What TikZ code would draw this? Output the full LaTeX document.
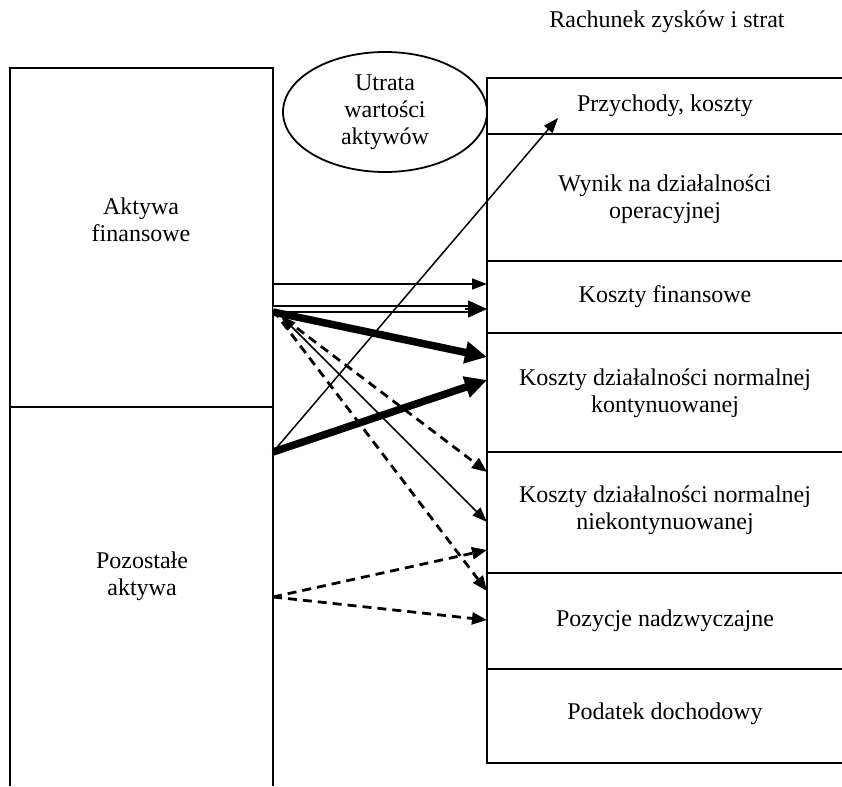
\documentclass[tikz,border=0pt]{standalone}
\usepackage{fontspec}
\setmainfont{Liberation Serif}
\usetikzlibrary{arrows.meta,shapes.geometric}
\begin{document}
\begin{tikzpicture}[x=1pt,y=-1pt,
  box/.style={line width=2.4pt},
  lbl/.style={font=\fontsize{24}{27}\selectfont, align=center, inner sep=0pt},
  thinarr/.style={line width=1.5pt, -{Triangle[length=15pt,width=11pt]}},
  thickarr/.style={line width=7.5pt, -{Triangle[length=22pt,width=21pt]}},
  dasharr/.style={line width=2.8pt, dash pattern=on 9pt off 6pt, -{Triangle[length=15pt,width=12pt]}}
]
\useasboundingbox (0,0) rectangle (842,786);
% left column
\draw[box] (273,786) -- (273,68) -- (10,68) -- (10,786);
\draw[box] (10,407) -- (273,407);
\node[lbl] (af) at (141,220) {Aktywa\\finansowe};
\node[lbl] (pa) at (142,576) {Pozostałe\\aktywa};
% ellipse
\node[draw, ellipse, line width=1.8pt, minimum width=204pt, minimum height=120pt, inner sep=0pt,
      font=\fontsize{24}{27}\selectfont, align=center] (loss) at (385,112) {Utrata\\wartości\\aktywów};
% right column
\node[lbl] (title) at (667,22) {Rachunek zysków i strat};
\draw[box] (843,78) -- (487,78) -- (487,763) -- (843,763);
\foreach \yy in {134,261,333,452,573,669} \draw[box] (487,\yy) -- (843,\yy);
\node[lbl] (r1) at (665,106) {Przychody, koszty};
\node[lbl] (r2) at (665,199) {Wynik na działalności\\operacyjnej};
\node[lbl] (r3) at (665,297) {Koszty finansowe};
\node[lbl] (r4) at (665,393) {Koszty działalności normalnej\\kontynuowanej};
\node[lbl] (r5) at (665,510) {Koszty działalności normalnej\\niekontynuowanej};
\node[lbl] (r6) at (665,621) {Pozycje nadzwyczajne};
\node[lbl] (r7) at (665,714) {Podatek dochodowy};
% connector end points
\coordinate (a1) at (273,284);   \coordinate (b1) at (487,284);
\coordinate (a2) at (273,309);   \coordinate (b2) at (487,309);
\coordinate (a2e) at (470,309);  \coordinate (a2t) at (465,309);
\coordinate (a3) at (273,312);   \coordinate (b3) at (487,357);
\coordinate (p1) at (273,452);   \coordinate (b4) at (487,380);
\coordinate (b5) at (558,118);
\coordinate (a6) at (281,316);   \coordinate (b6) at (487,522);
\coordinate (a7) at (273,310);   \coordinate (b7) at (487,472);
\coordinate (b8) at (487,591);
\coordinate (p2) at (273,597);   \coordinate (b9) at (487,550);
\coordinate (b10) at (487,620);
% connectors
\draw[thinarr] (a1) -- (b1);
\draw[line width=1.8pt, double, double distance=3.5pt] (a2) -- (a2e);
\draw[line width=1.5pt, -{Triangle[length=19pt,width=17pt]}] (a2t) -- (b2);
\draw[thickarr] (a3) -- (b3);
\draw[thickarr] (p1) -- (b4);
\draw[thinarr] (p1) -- (b5);
\draw[line width=1.5pt, {Triangle[length=15pt,width=11pt]}-{Triangle[length=15pt,width=11pt]}] (a6) -- (b6);
\draw[dasharr] (a7) -- (b7);
\draw[dasharr] (a7) -- (b8);
\draw[dasharr] (p2) -- (b9);
\draw[dasharr] (p2) -- (b10);
\end{tikzpicture}
\end{document}
